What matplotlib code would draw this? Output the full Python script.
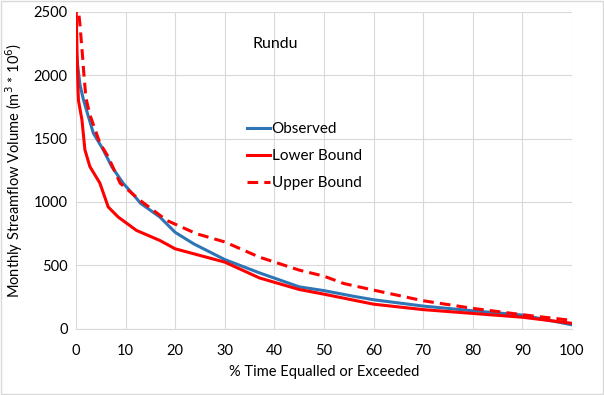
import matplotlib
matplotlib.use("Agg")
import matplotlib.pyplot as plt
from matplotlib.patches import Rectangle

plt.rcParams['font.family'] = ['Lato', 'DejaVu Sans']

# flow duration curves
pct_obs = [0, 0.8, 1.5, 2.5, 3.5, 5.5, 7.2, 9.5, 11.9, 13, 16.9, 20, 23.7, 30, 37, 45, 50, 56, 60, 70, 80, 90, 100]
observed = [2190, 1925, 1807, 1674, 1543, 1411, 1279, 1148, 1042, 990, 881, 760, 670, 545, 440, 330, 300, 255, 228, 178, 141, 107, 30]

pct_low = [0, 0.2, 0.4, 0.5, 1.2, 1.8, 2.8, 4.8, 6, 6.5, 8.5, 12.2, 16.9, 20, 30, 37, 45, 50, 60, 70, 80, 90, 100]
lower = [2600, 2200, 1900, 1800, 1648, 1411, 1279, 1150, 1016, 960, 881, 775, 696, 630, 525, 400, 309, 272, 193, 150, 120, 90, 42]

pct_up = [0, 0.8, 1.3, 1.6, 2, 2.8, 4.8, 6.5, 8.9, 12.9, 18.3, 24.3, 30, 37, 45, 50, 54, 60, 70, 80, 90, 100]
upper = [2700, 2400, 2162, 2004, 1822, 1688, 1466, 1356, 1148, 1013, 854, 749, 684, 564, 462, 414, 356, 304, 220, 160, 110, 65]

fig = plt.figure(figsize=(6.04, 3.95), dpi=100)
ax = fig.add_axes([0.1258, 0.168, 0.8212, 0.802])

ax.plot(pct_obs, observed, color='#2e75b6', lw=2.2, label='Observed')
ax.plot(pct_low, lower, color='#ff0000', lw=2.2, label='Lower Bound')
ax.plot(pct_up, upper, color='#ff0000', lw=2.2, dashes=(3.5, 2), label='Upper Bound')

ax.set_xlim(0, 100)
ax.set_ylim(0, 2500)
ax.set_xticks(range(0, 101, 10))
ax.set_yticks(range(0, 2501, 500))
ax.tick_params(length=0, labelsize=10.5)
ax.tick_params(axis='x', pad=11)
ax.tick_params(axis='y', pad=6)
ax.grid(color='#d9d9d9', lw=0.8)
ax.set_axisbelow(True)
for s in ['top', 'right', 'left']:
    ax.spines[s].set_visible(False)
ax.spines['bottom'].set_color('#d9d9d9')

ax.set_xlabel('% Time Equalled or Exceeded', fontsize=10.5, labelpad=5)
ax.set_ylabel('Monthly Streamflow Volume (m$^3$ * 10$^6$)', fontsize=10.5, labelpad=6)
ax.text(40.2, 2250, 'Rundu', fontsize=11.5, ha='center', va='center')

ax.legend(loc='center left', bbox_to_anchor=(0.345, 0.545), frameon=False,
          borderpad=0, borderaxespad=0, fontsize=11, handlelength=1.5,
          handletextpad=0.1, labelspacing=0.85)

fig.patches.append(Rectangle((0.002, 0.003), 0.996, 0.994, transform=fig.transFigure,
                             fill=False, edgecolor='#d9d9d9', lw=1))

fig.savefig('out.png', dpi=100)
